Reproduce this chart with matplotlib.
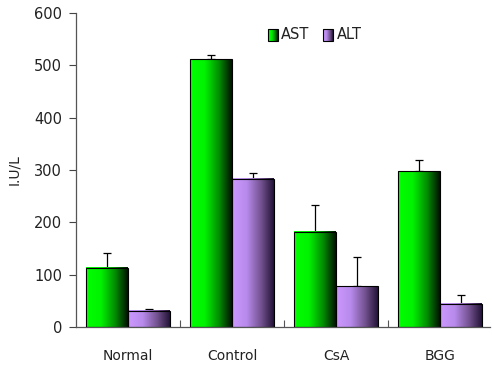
import numpy as np
import matplotlib
matplotlib.use("Agg")
import matplotlib.pyplot as plt
from matplotlib.colors import LinearSegmentedColormap

groups = ["Normal", "Control", "CsA", "BGG"]
ast = [113, 512, 182, 298]
ast_err = [28, 8, 52, 22]
alt = [31, 283, 78, 44]
alt_err = [3, 11, 56, 17]

green = LinearSegmentedColormap.from_list(
    "g", [(0, (0, 1, 0)), (0.35, (0, 0.95, 0)), (0.7, (0, 0.55, 0)), (1, (0, 0.08, 0))])
purple = LinearSegmentedColormap.from_list(
    "p", [(0, (0.8, 0.6, 1.0)), (0.35, (0.72, 0.54, 0.92)), (0.7, (0.45, 0.32, 0.56)), (1, (0.14, 0.08, 0.22))])
grad = np.linspace(0, 1, 64).reshape(1, -1)
txt = "#222222"


def gradient_bars(ax, xs, heights, width, cmap):
    bars = ax.bar(xs, heights, width, facecolor="none", edgecolor="black", linewidth=0.8, zorder=3)
    for b in bars:
        x0 = b.get_x()
        ax.imshow(grad, cmap=cmap, aspect="auto", zorder=2,
                  extent=(x0, x0 + b.get_width(), 0, b.get_height()))
    return bars


fig = plt.figure(figsize=(4.92, 3.67), dpi=100)
ax = fig.add_axes([0.1545, 0.109, 0.8415, 0.8556])

x = np.arange(len(groups))
w = 0.4
gradient_bars(ax, x - w / 2, ast, w, green)
gradient_bars(ax, x + w / 2, alt, w, purple)
ax.errorbar(x - w / 2, ast, yerr=[np.zeros(4), ast_err], fmt="none", ecolor="black",
            elinewidth=0.9, capsize=3, capthick=0.9, zorder=1)
ax.errorbar(x + w / 2, alt, yerr=[np.zeros(4), alt_err], fmt="none", ecolor="black",
            elinewidth=0.9, capsize=3, capthick=0.9, zorder=1)

ax.set_yticks(range(0, 601, 100))
ax.set_xticks(x)
ax.set_xticklabels(groups)
ax.set_xticks([0.5, 1.5, 2.5], minor=True)
ax.tick_params(axis="x", which="major", length=0, pad=16, labelsize=10, labelcolor=txt)
ax.tick_params(axis="x", which="minor", direction="in", length=5, width=0.8, color="#555555")
ax.tick_params(axis="y", direction="out", length=5, width=0.8, color="#444444",
               labelsize=10.5, pad=5, labelcolor=txt)
for s in ["top", "right"]:
    ax.spines[s].set_visible(False)
for s in ["left", "bottom"]:
    ax.spines[s].set_color("#555555")
    ax.spines[s].set_linewidth(0.9)
ax.set_ylabel("I.U/L", fontsize=10, color=txt)
ax.yaxis.set_label_coords(-0.132, 0.5)

# legend with gradient swatches
for lx, name, cmap in [(0.464, "AST", green), (0.597, "ALT", purple)]:
    ax.imshow(grad, cmap=cmap, aspect="auto", extent=(lx, lx + 0.024, 0.912, 0.95),
              transform=ax.transAxes, zorder=4)
    ax.add_patch(plt.Rectangle((lx, 0.912), 0.024, 0.038, transform=ax.transAxes,
                               facecolor="none", edgecolor="black", linewidth=0.8, zorder=5))
    ax.text(lx + 0.032, 0.931, name, transform=ax.transAxes, va="center",
            fontsize=10.5, color=txt)

ax.set_xlim(-0.5, 3.48)
ax.set_ylim(0, 600)
fig.savefig("out.png", dpi=100)
